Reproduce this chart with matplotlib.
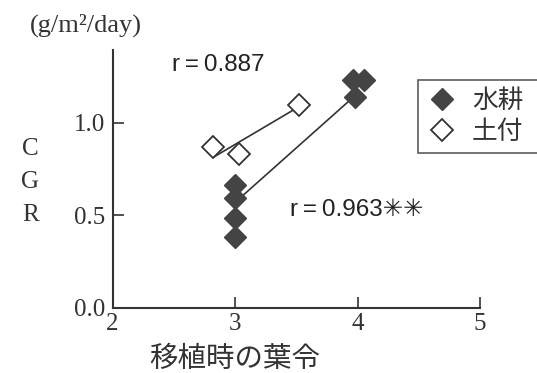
import numpy as np
import matplotlib.pyplot as plt

# CGR vs leaf age at transplanting
hydro_x = [3.0, 3.0, 3.0, 3.0, 3.96, 4.05, 3.98]
hydro_y = [0.663, 0.593, 0.485, 0.382, 1.23, 1.23, 1.14]
soil_x = [2.82, 3.035, 3.52]
soil_y = [0.87, 0.83, 1.096]

# regression lines (end points)
hydro_fit_x = [3.068, 3.94]
hydro_fit_y = [0.609, 1.123]
soil_fit_x = [2.823, 3.50]
soil_fit_y = [0.813, 1.078]

r_hydro = "r\u2009=\u20090.963\u2733\u2733"
r_soil = "r\u2009=\u20090.887"

xticks = [2, 3, 4, 5]
yticks = [0.0, 0.5, 1.0]

serif = ['Liberation Serif', 'DejaVu Serif']
sans = ['Liberation Sans', 'DejaVu Sans']
cjk = ['Noto Sans CJK JP', 'DejaVu Sans']
ink = '#333333'
fill = '#444444'

fig = plt.figure(figsize=(5.37, 3.73), dpi=100)
ax = fig.add_axes([0.2095, 0.175, 0.6845, 0.691])

ax.plot(soil_fit_x, soil_fit_y, color=ink, lw=1.2, zorder=2)
ax.plot(hydro_fit_x, hydro_fit_y, color=ink, lw=1.2, zorder=2)

ax.plot(soil_x, soil_y, 'D', ms=11, mfc='white', mec=ink, mew=1.3,
        ls='none', zorder=3, label='土付')
ax.plot(hydro_x, hydro_y, 'D', ms=11, mfc=fill, mec=fill, mew=1.0,
        ls='none', zorder=3, label='水耕')

ax.text(2.86, 1.31, r_soil, family=sans, fontsize=17.5, color='#222222',
        ha='center', va='center')
ax.text(3.45, 0.53, r_hydro, family=sans, fontsize=17.5, color='#222222',
        ha='left', va='center')

ax.set_xlim(2, 5)
ax.set_ylim(0, 1.393)
ax.set_xticks(xticks)
ax.set_yticks(yticks)
ax.set_xticklabels([str(t) for t in xticks], family=serif, fontsize=18,
                   color='#333333')
ax.set_yticklabels(['%.1f' % t for t in yticks], family=serif, fontsize=18,
                   color='#333333')
ax.tick_params(direction='in', length=8, width=1.2, color=ink, pad=5)
ax.tick_params(axis='x', pad=4)

for side in ['top', 'right']:
    ax.spines[side].set_visible(False)
for side in ['left', 'bottom']:
    ax.spines[side].set_linewidth(1.5)
    ax.spines[side].set_color(ink)

ax.set_xlabel('移植時の葉令', family=cjk, fontsize=20.5, color='#333333')
ax.xaxis.set_label_coords(0.333, -0.14)
ax.set_ylabel('C\nG\nR', family=serif, fontsize=18, rotation=0,
              linespacing=1.65, color='#333333', va='center', ha='center')
ax.yaxis.set_label_coords(-0.224, 0.488)

fig.text(30 / 537, 1 - 25 / 373, '(g/m\u00b2/day)', family=serif,
         fontsize=19, color='#333333', ha='left', va='center')

handles, labels = ax.get_legend_handles_labels()
leg = ax.legend(handles[::-1], labels[::-1], loc='upper left',
                bbox_to_anchor=(418 / 537, 1 - 152 / 373, 122 / 537, 72 / 373),
                bbox_transform=fig.transFigure, mode='expand',
                prop={'family': cjk, 'size': 18.5},
                frameon=True, fancybox=False, borderpad=0.3,
                handletextpad=0.5, labelspacing=0.2, handlelength=1.3,
                borderaxespad=0)
leg.get_frame().set_edgecolor(ink)
leg.get_frame().set_linewidth(1.2)
for t in leg.get_texts():
    t.set_color('#333333')

fig.savefig('out.png', dpi=100)
